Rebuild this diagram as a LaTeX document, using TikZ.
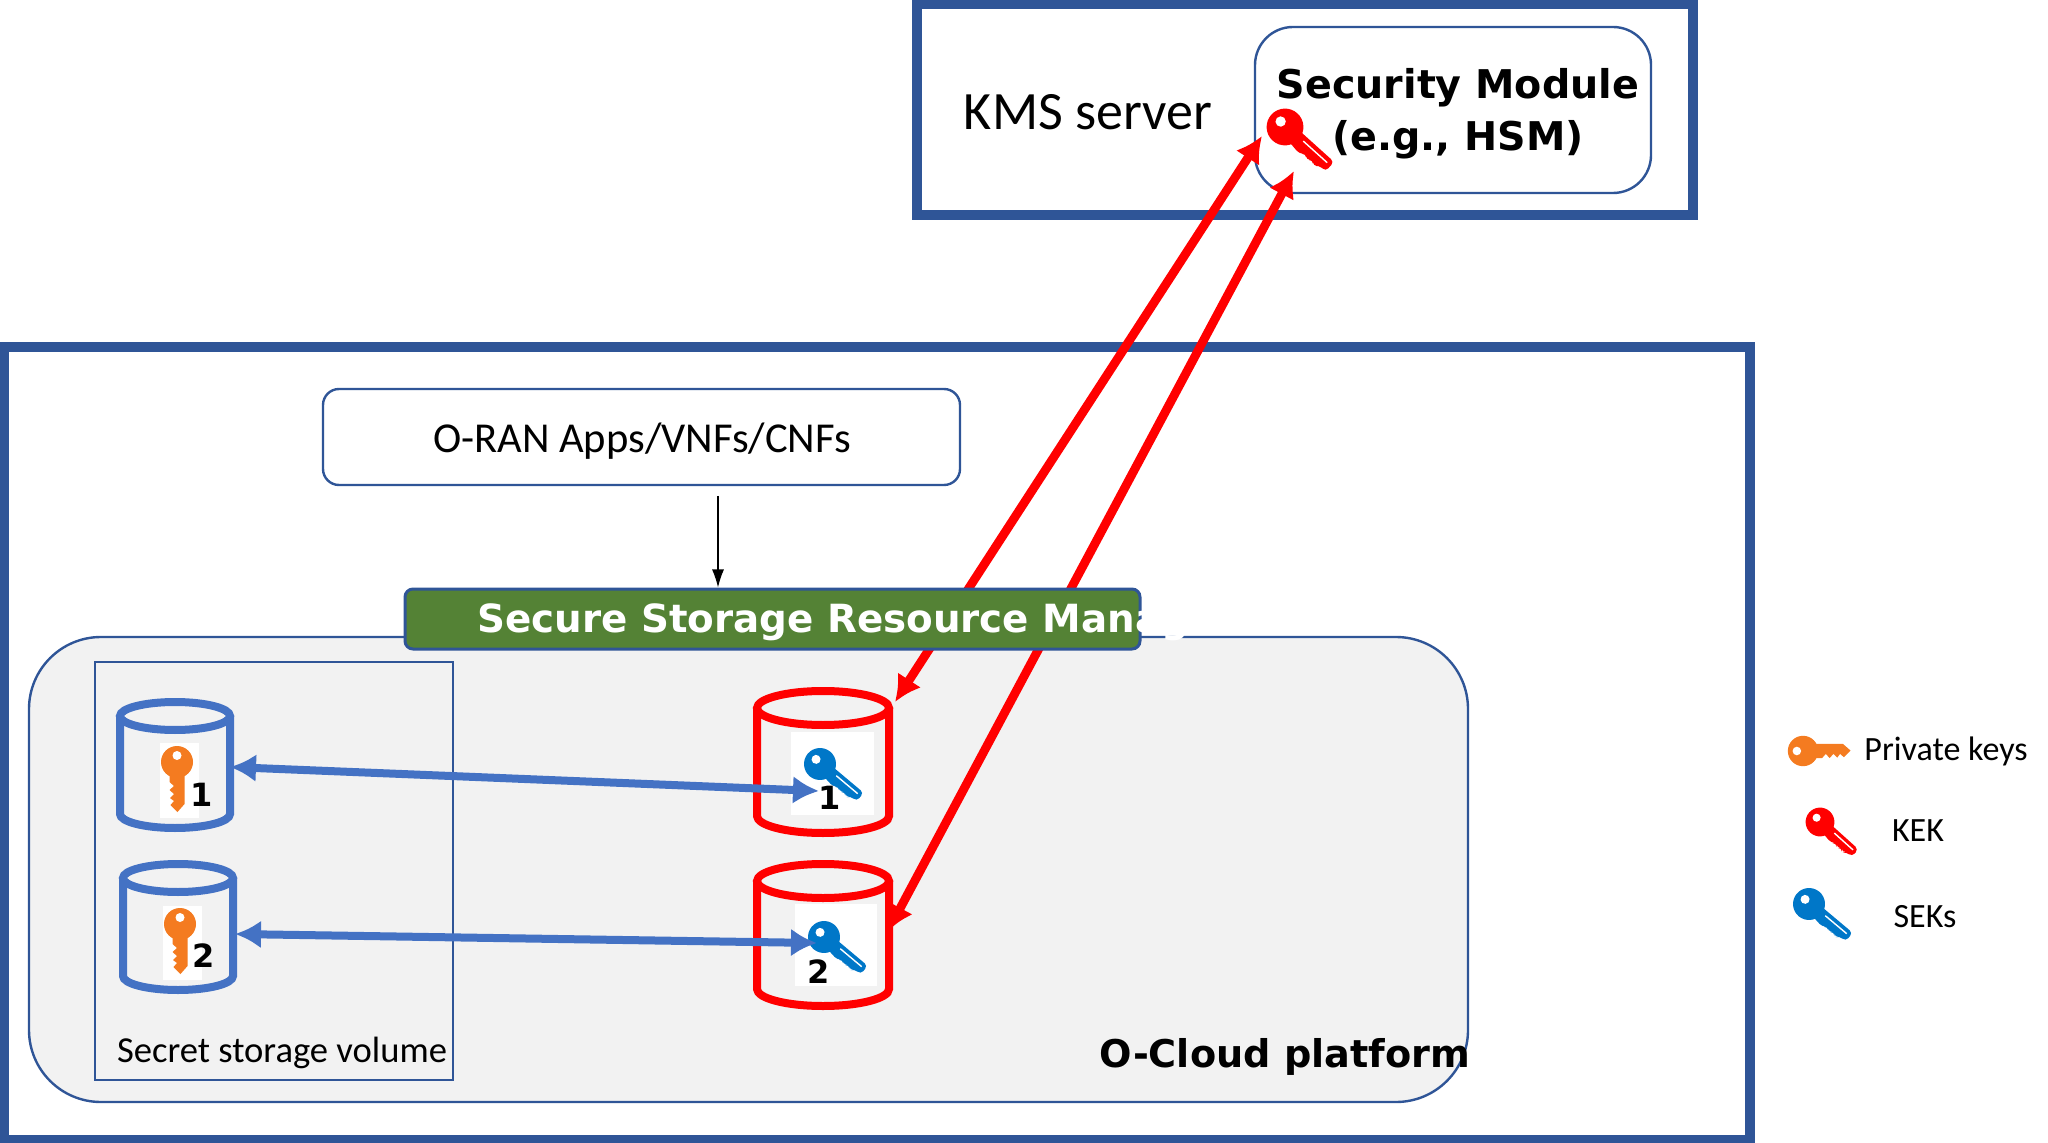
\documentclass[tikz,border=0pt]{standalone}
\usepackage{fontspec}
\setmainfont{Carlito}
\newfontfamily\dejabold{DejaVu Sans Bold}
\usetikzlibrary{arrows.meta}
\definecolor{myframe}{HTML}{2F5597}
\definecolor{myblue}{HTML}{4472C4}
\definecolor{mygreen}{HTML}{548235}
\definecolor{mygrey}{HTML}{F2F2F2}
\definecolor{myorange}{HTML}{F47B20}
\definecolor{mykey}{HTML}{0077C8}
\tikzset{
    framebox/.style={draw=myframe, line width=5pt, minimum width=#1, inner sep=0pt},
    softbox/.style={draw=myframe, line width=1.2pt, inner sep=0pt, fill=white},
    plaintext/.style={inner sep=0pt, text=black},
    boldtext/.style={inner sep=0pt, font=\dejabold\fontsize{#1}{#1}\selectfont},
    numtext/.style={inner sep=0pt, font=\dejabold\fontsize{16}{16}\selectfont},
    redlink/.style={red, line width=4.4pt, {Latex[length=13pt,width=14pt]}-{Latex[length=13pt,width=14pt]}},
    bluelink/.style={myblue, line width=4pt, {Latex[length=13pt,width=14pt]}-{Latex[length=13pt,width=14pt]}},
    pics/drum/.style n args={3}{code={
        \draw[pic actions, line width=4pt] (0,0) ellipse [x radius=#1, y radius=#2];
        \draw[pic actions, line width=4pt] (-#1,0) -- (-#1,#3) arc [start angle=180, end angle=0, x radius=#1, y radius=#2] -- (#1,0);
    }},
    privkey/.pic={
        \fill[pic actions] (0,0) circle [radius=16];
        \fill[pic actions] (10,-7.5) -- (42,-7.5) -- (50,-0.5) -- (43,6.5) -- (39,3) -- (36,7) -- (32,3) -- (28,7.5) -- (24,3) -- (20,7.5) -- (10,7.5) -- cycle;
        \fill[white] (-6.5,0) circle [radius=4.5];
    },
    slimkey/.pic={
        \fill[pic actions] (0,0) circle [radius=16];
        \fill[pic actions, rounded corners=2pt] (10,-6) -- (52,-6) -- (52,5) -- (44,5) -- (41,9) -- (37,5) -- (33,9) -- (29,5) -- (25,9) -- (10,7) -- cycle;
        \fill[white] (-6,-1) circle [radius=4.5];
        \draw[white, line width=0.7pt] (20,-1.5) -- (48,-1.5);
    },
}
\begin{document}
\begin{tikzpicture}[x=0.5pt, y=-0.5pt, >=latex]
    \useasboundingbox (0,0) rectangle (2048,1143);
    % server and platform frames
    \node[framebox=388pt, minimum height=105.5pt] (kmsBox) at (1305,109.5) {};
    \node[framebox=873pt, minimum height=396.5pt] (cloudBox) at (877,743.5) {};
    \node[softbox, minimum width=198pt, minimum height=83pt, rounded corners=19pt] (hsmBox) at (1453,110) {};
    \node[softbox, minimum width=318.5pt, minimum height=48pt, rounded corners=8pt] (ranBox) at (641.5,437) {};
    \node[softbox, fill=mygrey, minimum width=719.5pt, minimum height=232.5pt, rounded corners=36pt] (platformBox) at (748.5,869.5) {};
    \node[draw=myframe, line width=1.2pt, inner sep=0pt, minimum width=179pt, minimum height=209pt] (volumeBox) at (274,871) {};
    \node[plaintext, font=\fontsize{27}{27}\selectfont] (kmsLabel) at (1088,112) {KMS server};
    \node[plaintext, font=\fontsize{21.3}{21.3}\selectfont] (ranLabel) at (642,441) {O-RAN Apps/VNFs/CNFs};
    \node[plaintext, font=\fontsize{18.3}{18.3}\selectfont] (volumeLabel) at (282,1053) {Secret storage volume};
    \node[boldtext=19.8, align=center] (hsmLabel) at (1458,114) {Security Module\\[6pt](e.g., HSM)};
    \node[boldtext=19.1] (platformLabel) at (1285,1057) {O-Cloud platform};
    % storage drums
    \pic[draw=myblue] at (175,716) {drum={55}{14}{98}};
    \pic[draw=myblue] at (178,878) {drum={55}{14}{98}};
    \pic[draw=red] at (823,708) {drum={66}{17}{108}};
    \pic[draw=red] at (823,881) {drum={66}{17}{108}};
    \fill[white] (160,743) rectangle (199,818);
    \fill[white] (163,906) rectangle (202,980);
    \fill[white] (791,732) rectangle (874,815);
    \fill[white] (795,904) rectangle (877,986);
    \pic[fill=myorange, rotate=-90] at (177,762) {privkey};
    \pic[fill=myorange, rotate=-90] at (180,924) {privkey};
    \pic[fill=mykey, rotate=-40] at (820,764) {slimkey};
    \pic[fill=mykey, rotate=-40] at (824,937) {slimkey};
    \pic[fill=red, rotate=-42, scale=1.15] at (1285,127) {slimkey};
    % arrow ends
    \coordinate (kekInA) at (1262,136);
    \coordinate (kekInB) at (1294,171);
    \coordinate (sekTopA) at (895,702);
    \coordinate (sekTopB) at (888,931);
    \coordinate (volA) at (230,767);
    \coordinate (sekA) at (819,791);
    \coordinate (volB) at (235,934);
    \coordinate (sekB) at (817,943);
    \coordinate (ranOut) at (718,496);
    \draw[redlink] (sekTopA) -- (kekInA);
    \draw[redlink] (sekTopB) -- (kekInB);
    \draw[bluelink] (volA) -- (sekA);
    \draw[bluelink] (volB) -- (sekB);
    \node[numtext] (volNumA) at (202,795) {1};
    \node[numtext] (volNumB) at (204,956) {2};
    \node[numtext] (sekNumA) at (830,798) {1};
    \node[numtext] (sekNumB) at (819,972) {2};
    % manager bar
    \node[draw=myframe, fill=mygreen, line width=1.5pt, rounded corners=4pt, inner sep=0pt, minimum width=367.5pt, minimum height=30pt] (managerBar) at (772.5,619) {};
    \node[boldtext=19.4, text=white, anchor=west] (managerLabel) at (477,622) {Secure Storage Resource Manager};
    \draw[-{Latex[length=9pt,width=6pt]}, line width=0.6pt] (ranOut) -- (ranOut |- managerBar.north);
    % legend
    \pic[fill=myorange, scale=0.95] at (1803,751) {privkey};
    \pic[fill=red, rotate=-42, scale=0.9] at (1820,822) {slimkey};
    \pic[fill=mykey, rotate=-40] at (1809,904) {slimkey};
    \node[plaintext, font=\fontsize{17}{17}\selectfont] (privLabel) at (1946,751) {Private keys};
    \node[plaintext, font=\fontsize{17}{17}\selectfont] (kekLabel) at (1918,831) {KEK};
    \node[plaintext, font=\fontsize{17}{17}\selectfont] (sekLabel) at (1925,917) {SEKs};
\end{tikzpicture}
\end{document}
